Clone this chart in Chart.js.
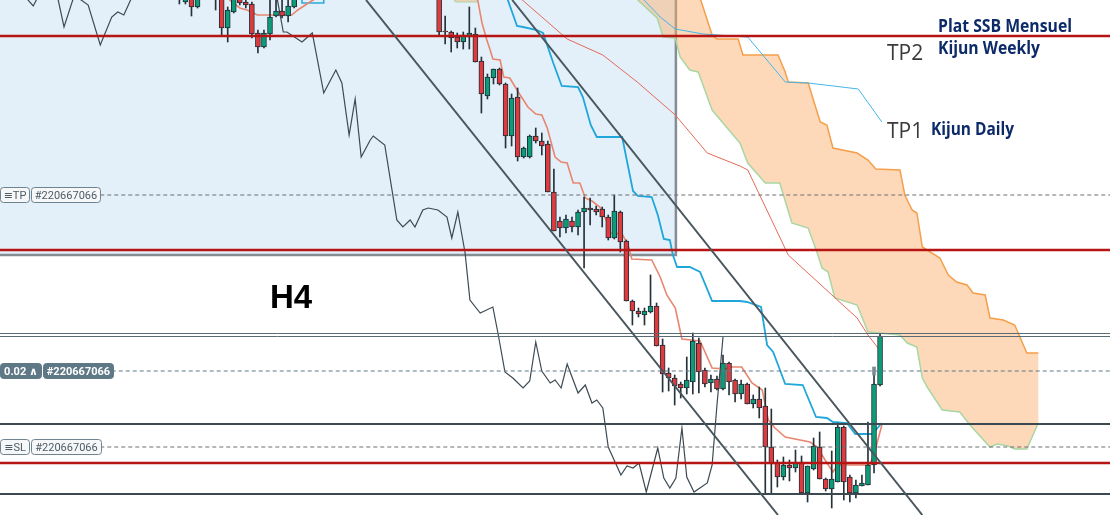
<!DOCTYPE html>
<html><head><meta charset="utf-8">
<script src="https://cdn.jsdelivr.net/npm/chart.js@4.4.1/dist/chart.umd.min.js"></script>
<style>html,body{margin:0;padding:0;background:#fff;overflow:hidden}canvas{display:block}</style>
</head><body>
<canvas id="c" width="1110" height="515"></canvas>
<script>
// ---- candles (index, open, high, low, close) ----
const candleIdx = [30,31,32,33,36,37,38,39,40,41,42,43,44,45,46,47,48,49,
 73,74,75,76,77,78,79,80,81,82,83,84,85,86,87,88,89,90,91,92,93,94,95,96,97,98,99,100,
 101,102,103,104,105,106,107,108,109,110,111,112,113,114,115,116,117,118,119,120,
 121,122,123,124,125,126,127,128,129,130,131,132,133,134,135,136,137,138,139,140,
 141,142,143,144,145,146];
const candleOpen = [525,513,521,508,535,519,487,503,518,513,511,482,468,481,499,504,499,508,
 520,484,483,478,473,478,481,454,419,437,446,431,379,418,358,358,379,374,371,323,294,287,294,288,303,307,306,306,
 298,277,303,274,214,204,200,203,209,170,142,137,131,127,133,172,145,132,136,126,
 152,135,121,131,111,116,109,68,52,38,50,47,53,22,46,68,36,26,33,88,
 38,22,29,30,50,130];
const candleHigh = [529,520,525,525,540,523,508,520,521,515,513,485,485,515,517,515,515,520,
 525,499,484,482,483,508,487,458,441,446,447,432,421,427,368,380,387,382,374,346,298,300,298,305,318,317,309,308,
 300,320,304,275,215,207,207,240,212,176,147,140,133,158,182,177,147,140,139,160,
 153,136,135,132,120,128,127,106,55,58,55,65,59,49,77,83,37,64,92,89,
 40,35,40,93,140,181];
const candleLow = [511,511,499,507,505,480,473,502,510,507,477,462,467,475,498,497,493,507,
 480,471,463,467,466,466,453,402,416,431,430,367,369,354,357,357,372,360,323,284,278,282,283,280,247,290,300,288,
 275,276,263,214,190,198,190,202,169,123,124,110,117,121,121,122,128,123,125,125,
 120,113,116,111,107,97,21,22,28,35,34,43,22,13,45,36,24,7,33,15,
 13,17,29,30,42,129];
const candleClose = [519,518,508,521,517,487,505,517,512,510,481,468,482,498,504,499,509,518,
 483,483,477,473,480,482,453,421,438,446,431,379,417,358,367,379,374,369,323,284,287,296,288,303,307,305,303,298,
 277,304,273,214,204,201,204,209,169,141,137,129,127,135,174,143,131,136,126,152,
 133,121,131,111,116,107,68,51,38,50,47,53,22,49,69,36,26,36,88,33,
 22,30,32,50,131,179];
const markerIdx = [145];
const markerRange = [[140,148]];

// ---- Ichimoku lines [index, value] ----
const tenkan = [[37.7,518],[40.0,507],[41.2,505],[42.9,500],[48.6,500],[49.6,505],[51.6,513],[53.3,519],[66,540],
 [79.3,518],[80.1,492],[80.9,475],[81.4,466],[81.9,456],[83.1,455],[83.7,438],[84.7,437],[86.1,423],[87.7,408],[89.0,401],
 [90.0,400],[90.9,387],[92.2,358],[93.2,353],[94.2,352],[94.7,342],[95.2,332],[96.3,332],[97.2,317],[98.3,314],[99.6,308],
 [100.8,293],[101.3,282],[103.3,281],[104.3,270],[104.9,256],[108.2,255],[109.6,238],[110.7,220],[112.1,207],[113.2,176],
 [116.2,174],[118.2,147],[120.3,146],[121.2,148],[123.1,148],[124.8,132],[126.5,125],[127.5,95],[128.6,87],[130.3,78],
 [134.4,73],[135.6,68],[136.9,55],[138.2,43],[139.0,50],[144.3,50],[145.2,65],[146.3,90]];
const kijunTop = [[50.3,520],[50.3,512],[53.9,512],[53.9,520]];
const kijun = [[84.2,518],[85.9,489],[86.9,488],[89.2,485],[90.2,482],[91.9,452],[93.3,429],[96.0,428],[96.8,418],[98.1,390],
 [99.1,378],[103.3,378],[105.1,324],[105.9,319],[108.2,318],[109.2,300],[110.2,276],[111.2,275],[111.7,260],[112.4,248],
 [114.5,248],[116.2,243],[118.2,214],[122.8,214],[124.0,213],[126.3,208],[127.3,170],[128.3,163],[130.3,131],[133.2,130],
 [135.4,98],[137.2,97],[138.2,93],[140.5,92],[141.9,81],[144.7,81],[146.3,92]];
const kijunDaily = [[106.6,517],[109.6,498],[112.1,486],[116.7,481],[124.1,478],[130.3,433],[134.1,432],[142.4,426],[146.3,393]];
const kijunWeekly = [[86.4,517],[94.2,476],[100.1,460],[105.8,433],[112.1,400],[117.4,362],[122.8,349],[124.1,345],[130.8,260],
 [142.2,197],[144.0,180],[146.3,162]];
const chikou = [[2.8,535],[4.8,516],[5.8,509],[6.4,516],[8.1,535],[9.9,516],[10.9,488],[12.4,516],[13.0,525],[13.5,516],
 [14.9,510],[16.9,470],[18.8,498],[19.8,503],[20.8,500],[22.0,516],[23.5,545],[45.0,545],[46.2,516],[47.2,483],[47.8,483],
 [50.3,473],[52.0,482],[53.9,422],[55.9,445],[56.9,432],[58.1,380],[59.1,416],[60.1,358],[61.6,375],[62.1,379],[64.0,370],
 [66.0,295],[67.0,288],[68.2,295],[69.0,288],[70.3,305],[71.2,307],[72.8,305],[74.3,298],[75.1,277],[76.1,303],[77.3,262],
 [78.1,215],[79.8,202],[81.9,208],[82.8,180],[83.9,143],[85.2,137],[86.9,127],[88.0,134],[89.0,173],[90.0,144],[91.4,132],
 [92.2,135],[93.2,127],[94.2,151],[96.0,122],[97.2,130],[98.3,112],[99.1,115],[100.1,107],[101.0,68],[103.1,40],[104.1,49],
 [105.1,47],[106.1,52],[107.3,23],[109.2,67],[110.2,37],[111.2,27],[112.2,37],[113.2,87],[114.0,38],[115.2,23],[117.4,32],
 [118.2,50],[119.0,110],[120.0,178]];
const spanB = [[104.6,545],[116.2,517],[118.2,480],[119.0,476],[122.5,476],[123.3,460],[129.1,460],[130.3,443],[130.8,433],
 [134.1,432],[136.1,393],[137.2,390],[138.2,367],[142.2,362],[144.0,355],[145.3,346],[149.3,345],[150.1,320],[151.3,305],
 [152.1,302],[153.0,268],[155.9,257],[157.3,240],[158.7,233],[160.4,230],[161.4,222],[163.4,220],[164.2,197],[166.4,195],
 [168.3,190],[170.3,162],[172.2,162]];
const spanA = [[105.3,523],[105.9,515],[109.1,497],[110.1,478],[112.1,477],[112.9,458],[114.5,445],[115.9,443],[118.2,405],
 [120.0,392],[122.8,372],[124.1,352],[127.0,332],[129.4,332],[131.4,292],[134.1,287],[135.6,262],[136.4,247],[137.4,243],
 [138.5,217],[142.2,210],[144.0,183],[146.0,182],[149.3,180],[150.5,172],[152.1,168],[153.0,137],[153.8,128],[156.3,105],
 [159.2,103],[160.9,90],[164.2,68],[165.4,71],[167.2,69],[168.3,66],[170.3,66],[172.2,92]];
const spanAEarly = [[74.8,520],[75.8,513],[79.1,513],[79.8,520]];

// ---- drawings ----
const zoneBox = [[-5,560],[112.2,560],[112.2,260],[-5,260],[-5,560]];
const redLevels = [479, 265, 52];
const darkLevels = [91, 21];
const greyLevels = [181.5, 178.5];
const orderLevels = [320, 144, 68];
const orderStart = [16.9, 18.8, 16.9];
const orderTags = [['\u2261TP','#220667066'],['0.02 \u2227','#220667066'],['\u2261SL','#220667066']];
const channelA = [[60.9,515],[129.1,0]];
const channelB = [[85.1,515],[153.0,0]];
const X_MIN = 0.3, X_MAX = 184.07, Y_MIN = 0, Y_MAX = 515;

const pts = a => a.map(p => ({x:p[0], y:p[1]}));
const GREEN = '#0c9c77', RED = '#df3a3d', EDGE = '#1f2d36';

const datasets = [];
function line(data, color, width, order, extra) {
  datasets.push(Object.assign({type:'line', data:pts(data), borderColor:color, borderWidth:width,
    pointRadius:0, fill:false, tension:0, order:order, spanGaps:true}, extra||{}));
}
// candles
datasets.push({type:'bar', order:1, grouped:false, barThickness:5, borderWidth:1, borderColor:EDGE,
  borderSkipped:false, minBarLength:1,
  data: candleIdx.map((x,i)=>({x:x, y:[candleOpen[i], candleClose[i]]})),
  backgroundColor: candleIdx.map((x,i)=> candleClose[i] >= candleOpen[i] ? GREEN : RED)});
datasets.push({type:'bar', order:2, grouped:false, barThickness:1, borderWidth:0,
  data: candleIdx.map((x,i)=>({x:x, y:[candleLow[i], candleHigh[i]]})), backgroundColor:'#26323a'});
datasets.push({type:'bar', order:0, grouped:false, barThickness:3, borderWidth:0,
  data: markerIdx.map((x,i)=>({x:x, y:markerRange[i]})), backgroundColor:'#7b8c96'});
// levels
redLevels.forEach(v => line([[X_MIN,v],[X_MAX,v]], '#b71414', 2.4, 0.5));
darkLevels.forEach(v => line([[X_MIN,v],[X_MAX,v]], '#3c4950', 2, 0.5));
greyLevels.forEach(v => line([[X_MIN,v],[X_MAX,v]], '#5b6b73', 1, 0.5));
orderLevels.forEach((v,i) => line([[orderStart[i],v],[X_MAX,v]], i===1 ? '#5f7886' : '#6a6f73', 1, 0.5, {borderDash:[4,3]}));
line(channelA, '#48565e', 2, 0.4);
line(channelB, '#48565e', 2, 0.4);
// ichimoku
line(tenkan, '#e8866f', 1.6, 4);
line(kijunTop, '#2aa9dc', 1.6, 4);
line(kijun, '#1fa7da', 1.8, 4);
line(kijunDaily, '#45b6e8', 1, 4);
line(kijunWeekly, '#e46a58', 1, 4);
line(chikou, '#3d4a52', 1.2, 4);
line(spanB, '#f59f4a', 1.5, 5);
line(spanA, '#a9d6a3', 1.5, 5);
line(spanB.concat(spanA.slice().reverse()), 'rgba(0,0,0,0)', 0, 6, {fill:'shape', backgroundColor:'rgba(251,170,100,0.45)'});
line(spanAEarly, '#a9d6a3', 1.2, 6, {fill:'shape', backgroundColor:'rgba(251,170,100,0.45)'});
// zone
line(zoneBox, 'rgba(128,136,141,0.95)', 2.5, 7, {fill:'shape', backgroundColor:'#e3f0fa'});

function rr(g,x,y,w,h,r){g.beginPath();g.moveTo(x+r,y);g.lineTo(x+w-r,y);g.quadraticCurveTo(x+w,y,x+w,y+r);
  g.lineTo(x+w,y+h-r);g.quadraticCurveTo(x+w,y+h,x+w-r,y+h);g.lineTo(x+r,y+h);g.quadraticCurveTo(x,y+h,x,y+h-r);
  g.lineTo(x,y+r);g.quadraticCurveTo(x,y,x+r,y);g.closePath();}

const annot = {
  id:'annot',
  afterDatasetsDraw(c){
    const g = c.ctx, ys = c.scales.y;
    g.save();
    g.textBaseline = 'alphabetic';
    g.fillStyle = '#000'; g.font = 'bold 33px "Liberation Sans", Arial, sans-serif';
    g.fillText('H4', 270, 308);
    g.fillStyle = '#3a3a3a'; g.font = '21px "Open Sans", sans-serif';
    g.fillText('TP2', 887, 60, 37);
    g.fillText('TP1', 887, 138, 37);
    g.fillStyle = '#0c2a68'; g.font = 'bold 18px "Open Sans", sans-serif';
    g.fillText('Plat SSB Mensuel', 938, 32, 134);
    g.fillText('Kijun Weekly', 938, 54, 102);
    g.fillText('Kijun Daily', 931, 135, 83);
    // order tags
    const widths = [[29,69],[41,70],[29,70]];
    orderLevels.forEach((v,i) => {
      const cy = Math.round(ys.getPixelForValue(v));
      const y0 = cy - 7.5, h = 15;
      const dark = i === 1;
      let x = 0.5;
      orderTags[i].forEach((t,k) => {
        const w = widths[i][k];
        rr(g, x, y0, w, h, 3);
        g.fillStyle = dark ? '#5f7886' : '#f5f7f8'; g.fill();
        g.strokeStyle = dark ? '#5f7886' : '#6f8290'; g.lineWidth = 1; g.stroke();
        g.fillStyle = dark ? '#ffffff' : '#4d5b65';
        g.font = (dark ? 'bold ' : '') + '11px Roboto, "DejaVu Sans", sans-serif';
        g.textAlign = 'center';
        g.fillText(t, x + w/2, cy + 4);
        g.textAlign = 'left';
        x += w + 2;
      });
    });
    g.restore();
  }
};

new Chart(document.getElementById('c'), {
  type:'bar',
  data:{datasets:datasets},
  options:{
    responsive:false, animation:false, devicePixelRatio:1,
    layout:{padding:0},
    plugins:{legend:{display:false}, tooltip:{enabled:false}},
    events:[],
    scales:{
      x:{type:'linear', min:X_MIN, max:X_MAX, display:false, offset:false},
      y:{type:'linear', min:Y_MIN, max:Y_MAX, display:false}
    }
  },
  plugins:[annot]
});
</script>
</body></html>
